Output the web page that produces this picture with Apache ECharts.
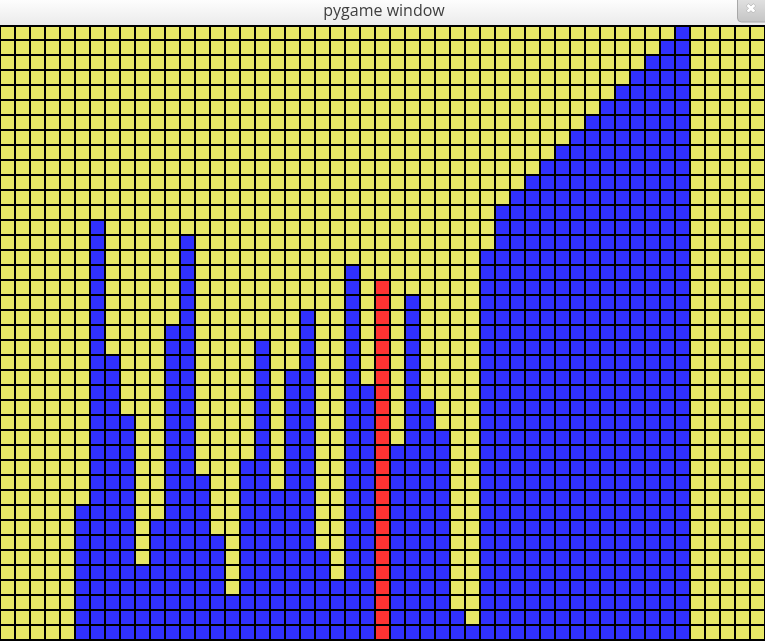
<!DOCTYPE html>
<html>
<head>
<meta charset="utf-8">
<script src="https://cdn.jsdelivr.net/npm/echarts@6/dist/echarts.min.js"></script>
<style>
html,body{margin:0;padding:0;background:#000;}
#chart{width:765px;height:641px;}
</style>
</head>
<body>
<div id="chart"></div>
<script>
// Grid dimensions (columns x rows of cells)
var columnCount = 51;
var rowCount = 41;
// Height (number of filled cells from the bottom) of each column
var heights = [0, 0, 0, 0, 0,
  9, 28, 19, 15, 5, 8, 21, 27, 11, 7, 3, 12, 20, 10, 18, 22, 6, 4, 25, 17, 24,
  13, 23, 16, 14, 2, 1, 26, 29, 30, 31, 32, 33, 34, 35, 36, 37, 38, 39, 40, 41,
  0, 0, 0, 0, 0];
// Column currently highlighted (red)
var activeColumn = 25;
var windowTitle = 'pygame window';
var cellColors = ['#E8E866', '#3131FF', '#FF3333'];

var xCats = [];
for (var i = 0; i < columnCount; i++) xCats.push(String(i));
var yCats = [];
for (var r = 0; r < rowCount; r++) yCats.push(String(r));

var cells = [];
for (var c = 0; c < columnCount; c++) {
  for (var r2 = 0; r2 < rowCount; r2++) {
    var v = 0;
    if (r2 < heights[c]) v = (c === activeColumn) ? 2 : 1;
    cells.push([c, r2, v]);
  }
}

var chart = echarts.init(document.getElementById('chart'), null, {renderer: 'canvas'});
chart.setOption({
  backgroundColor: '#000',
  animation: false,
  grid: {left: 0, top: 25, width: 765, height: 615},
  xAxis: {type: 'category', data: xCats, show: false},
  yAxis: {type: 'category', data: yCats, show: false},
  series: [{
    type: 'custom',
    data: cells,
    silent: true,
    renderItem: function (params, api) {
      var center = api.coord([api.value(0), api.value(1)]);
      var size = api.size([1, 1]);
      var x0 = Math.round(center[0] - size[0] / 2);
      var y0 = Math.round(center[1] - size[1] / 2);
      return {
        type: 'rect',
        shape: {x: x0 + 1, y: y0 + 1, width: size[0] - 2, height: size[1] - 2},
        style: {fill: cellColors[api.value(2)]}
      };
    }
  }],
  graphic: [
    {
      type: 'rect', z: 100, silent: true,
      shape: {x: 0, y: 0, width: 765, height: 25},
      style: {
        fill: new echarts.graphic.LinearGradient(0, 0, 0, 1, [
          {offset: 0, color: '#FDFDFD'},
          {offset: 1, color: '#EBEBEB'}
        ])
      }
    },
    {
      type: 'rect', z: 100, silent: true,
      shape: {x: 0, y: 25, width: 765, height: 2},
      style: {fill: '#000'}
    },
    {
      type: 'rect', z: 101, silent: true,
      shape: {x: 737.5, y: -1, width: 28, height: 23, r: [0, 0, 0, 4]},
      style: {
        fill: new echarts.graphic.LinearGradient(0, 0, 0, 1, [
          {offset: 0, color: '#E2E2E2'},
          {offset: 1, color: '#C4C4C4'}
        ]),
        stroke: '#A8A8A8', lineWidth: 1
      }
    },
    {
      type: 'text', z: 102, silent: true,
      style: {
        x: 751, y: 10, text: '\u2716', fill: '#FFFFFF',
        stroke: '#9A9A9A', lineWidth: 0.6,
        font: '13px "DejaVu Sans"', align: 'center', verticalAlign: 'middle'
      }
    },
    {
      type: 'text', z: 102, silent: true,
      style: {
        x: 384, y: 11, text: windowTitle, fill: '#3F3F3F',
        font: '16px "Open Sans"', align: 'center', verticalAlign: 'middle'
      }
    }
  ]
});
</script>
</body>
</html>
